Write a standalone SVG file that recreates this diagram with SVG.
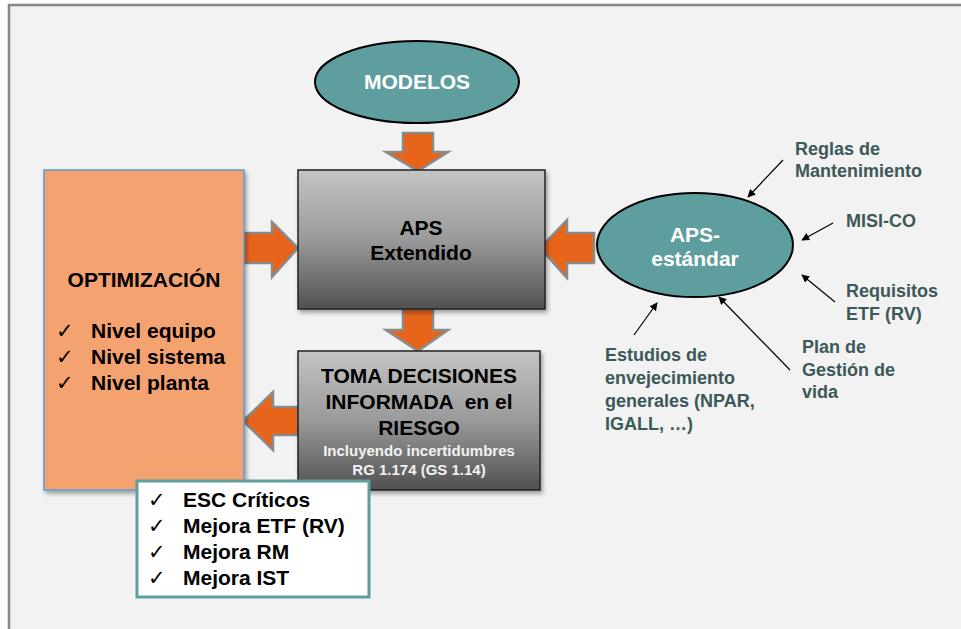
<svg xmlns="http://www.w3.org/2000/svg" width="961" height="629" viewBox="0 0 961 629">
<defs>
<linearGradient id="gbox" x1="0" y1="0" x2="0" y2="1">
<stop offset="0" stop-color="#c4c4c4"/>
<stop offset="0.5" stop-color="#9a9a9a"/>
<stop offset="1" stop-color="#505050"/>
</linearGradient>
<filter id="sh" x="-10%" y="-10%" width="125%" height="125%">
<feDropShadow dx="2" dy="3" stdDeviation="2" flood-color="#000" flood-opacity="0.35"/>
</filter>
<marker id="ah" viewBox="0 0 10 10" refX="9" refY="5" markerWidth="8" markerHeight="8" orient="auto" markerUnits="userSpaceOnUse">
<path d="M0,0 L10,5 L0,10 z" fill="#000"/>
</marker>
</defs>
<style>
.t{font-family:"Liberation Sans",Arial,sans-serif;font-weight:bold}
.big{font-size:21px}
.w{fill:#ffffff}
.k{fill:#000000}
.lab{font-size:18px;fill:#3c5858}
.chk{font-family:"DejaVu Sans",sans-serif;font-size:21px;fill:#000}
.arr{fill:#e8641a;stroke:#8a8a8a;stroke-width:2.5}
.thin{stroke:#000;stroke-width:1.2;fill:none;marker-end:url(#ah)}
</style>
<rect x="0" y="0" width="961" height="629" fill="#ffffff"/>
<rect x="9" y="5" width="980" height="660" fill="#f2f2f2" stroke="#888888" stroke-width="2.5"/>

<g id="connectors">
<path class="arr" d="M403,133 L433,133 L433,152 L448,152 L418,171 L386,152 L403,152 Z"/>
<path class="arr" d="M403,309 L433,309 L433,330 L448,330 L418,351 L386,330 L403,330 Z"/>
<path class="arr" d="M244,233 L272,233 L272,222 L298,248 L272,277 L272,263 L244,263 Z"/>
<path class="arr" d="M594,233 L567,233 L567,220 L540,248 L567,278 L567,263 L594,263 Z"/>
<path class="arr" d="M298,407 L273,407 L273,392 L243,421 L273,450 L273,435 L298,435 Z"/>
<line class="thin" x1="783" y1="160" x2="748" y2="197"/>
<line class="thin" x1="833" y1="223" x2="802" y2="240"/>
<line class="thin" x1="835" y1="302" x2="802" y2="275"/>
<line class="thin" x1="790" y1="370" x2="719" y2="297"/>
<line class="thin" x1="634" y1="335" x2="657" y2="303"/>
</g>

<g id="modelos">
<ellipse cx="417" cy="82" rx="102" ry="41" fill="#5f9e9e" stroke="#000" stroke-width="2"/>
<text class="t big w" x="417" y="89" text-anchor="middle">MODELOS</text>
</g>

<g id="aps-extendido">
<rect x="298" y="170" width="247" height="139" fill="url(#gbox)" stroke="#222" stroke-width="1.5" filter="url(#sh)"/>
<text class="t big k" x="421" y="235" text-anchor="middle">APS</text>
<text class="t big k" x="421" y="260" text-anchor="middle">Extendido</text>
</g>

<g id="toma-decisiones">
<rect x="298" y="351" width="242" height="139" fill="url(#gbox)" stroke="#222" stroke-width="1.5" filter="url(#sh)"/>
<text class="t big k" x="419" y="383" text-anchor="middle">TOMA DECISIONES</text>
<text class="t big k" x="419" y="409" xml:space="preserve" text-anchor="middle">INFORMADA  en el</text>
<text class="t big k" x="419" y="435" text-anchor="middle">RIESGO</text>
<text class="t" x="419" y="456" font-size="15" fill="#f2f2f2" text-anchor="middle">Incluyendo incertidumbres</text>
<text class="t" x="419" y="475" font-size="15" fill="#f2f2f2" text-anchor="middle">RG 1.174 (GS 1.14)</text>
</g>

<g id="optimizacion">
<rect x="44" y="170" width="200" height="320" fill="#f4a270" stroke="#5b9bd5" stroke-width="1.5" filter="url(#sh)"/>
<text class="t big k" x="144" y="287" text-anchor="middle">OPTIMIZACIÓN</text>
<text class="chk" x="56" y="338">✓</text>
<text class="t big k" x="91" y="338">Nivel equipo</text>
<text class="chk" x="56" y="364">✓</text>
<text class="t big k" x="91" y="364">Nivel sistema</text>
<text class="chk" x="56" y="390">✓</text>
<text class="t big k" x="91" y="390">Nivel planta</text>
</g>

<g id="mejoras">
<rect x="137" y="481" width="232" height="116" fill="#ffffff" stroke="#5f9e9e" stroke-width="3"/>
<text class="chk" x="148" y="507">✓</text>
<text class="t big k" x="183" y="507">ESC Críticos</text>
<text class="chk" x="148" y="533">✓</text>
<text class="t big k" x="183" y="533">Mejora ETF (RV)</text>
<text class="chk" x="148" y="559">✓</text>
<text class="t big k" x="183" y="559">Mejora RM</text>
<text class="chk" x="148" y="585">✓</text>
<text class="t big k" x="183" y="585">Mejora IST</text>
</g>

<g id="aps-estandar">
<ellipse cx="695" cy="245" rx="98" ry="52" fill="#5f9e9e" stroke="#000" stroke-width="2"/>
<text class="t big w" x="695" y="242" text-anchor="middle">APS-</text>
<text class="t big w" x="695" y="266" text-anchor="middle">estándar</text>
</g>

<g id="reglas">
<text class="t lab" x="795" y="155">Reglas de</text>
<text class="t lab" x="795" y="177">Mantenimiento</text>
</g>
<g id="misi-co">
<text class="t lab" x="846" y="227">MISI-CO</text>
</g>
<g id="requisitos">
<text class="t lab" x="846" y="297">Requisitos</text>
<text class="t lab" x="846" y="320">ETF (RV)</text>
</g>
<g id="plan">
<text class="t lab" x="802" y="353">Plan de</text>
<text class="t lab" x="802" y="376">Gestión de</text>
<text class="t lab" x="802" y="398">vida</text>
</g>
<g id="estudios">
<text class="t lab" x="605" y="361">Estudios de</text>
<text class="t lab" x="605" y="384">envejecimiento</text>
<text class="t lab" x="605" y="407">generales (NPAR,</text>
<text class="t lab" x="605" y="430">IGALL, …)</text>
</g>
</svg>
